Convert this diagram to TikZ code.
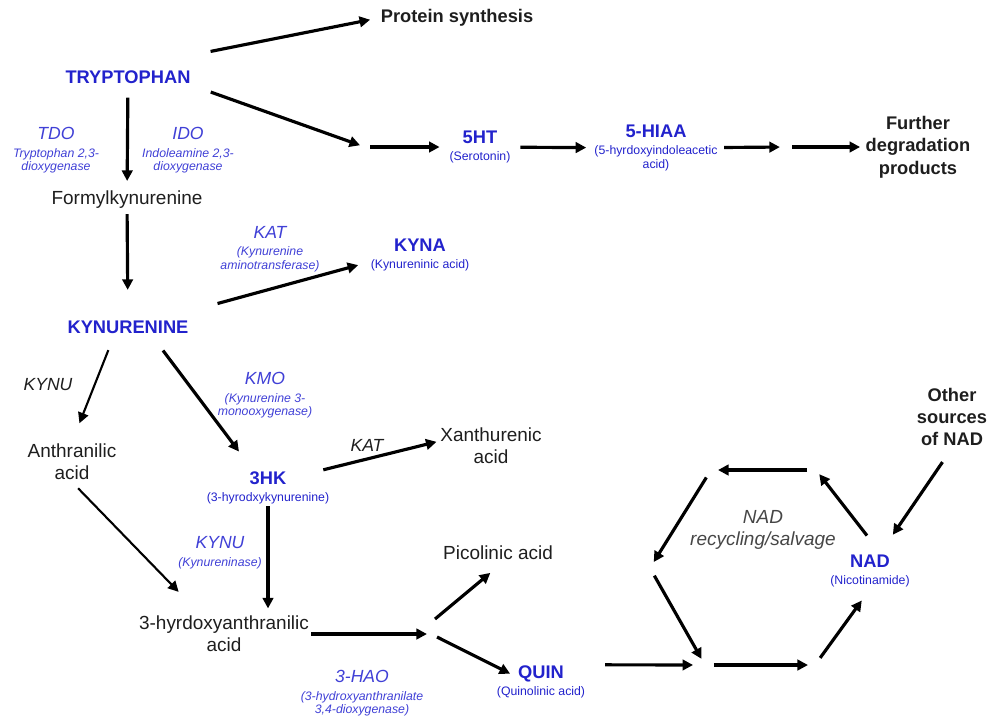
\documentclass[tikz,border=0pt]{standalone}
\usepackage{fontspec}
\setmainfont{Liberation Sans}
\usetikzlibrary{arrows.meta}

\definecolor{titleblue}{RGB}{34,34,204}
\definecolor{enzblue}{RGB}{64,64,214}
\definecolor{inkgrey}{RGB}{30,30,30}
\definecolor{salvgrey}{RGB}{70,70,70}

\newcommand\notefont{\fontsize{7}{7.6}\selectfont}
\newcommand\ttl[1]{{\fontsize{10.4}{12}\selectfont\bfseries #1}}
\newcommand\enz[1]{{\fontsize{10}{12}\selectfont #1}}

\tikzset{
  metab/.style={text=titleblue, font=\notefont, align=center, inner sep=1pt},
  enzyme/.style={text=enzblue, font=\itshape\notefont, align=center, inner sep=1pt},
  compound/.style={text=inkgrey, font=\fontsize{10.8}{12.4}\selectfont, align=center, inner sep=1pt},
  endpoint/.style={text=inkgrey, font=\bfseries\fontsize{10.4}{12.7}\selectfont, align=center, inner sep=1pt},
  helper/.style={text=inkgrey, font=\itshape\fontsize{10}{12}\selectfont, inner sep=1pt},
  salvage/.style={text=salvgrey, font=\itshape\fontsize{10.8}{13}\selectfont, align=center, inner sep=1pt},
  flow/.style={-{Triangle[length=6pt,width=6pt]}, line width=1.8pt, draw=black},
  thinflow/.style={flow, line width=1.2pt},
  hexflow/.style={flow, shorten <=5pt, shorten >=4pt}
}

\begin{document}
\begin{tikzpicture}[x=0.2mm, y=-0.2mm]
        \useasboundingbox (0,0) rectangle (990,719);

        % Nodes
        \node (protein) [endpoint] at (457,18) {Protein synthesis};
        \node (trp) [metab] at (128,77) {\ttl{TRYPTOPHAN}};
        \node (sht) [metab] at (480,147) {\ttl{5HT}\\[2pt](Serotonin)};
        \node (hiaa) [metab] at (656,148) {\ttl{5-HIAA}\\[2pt](5-hyrdoxyindoleacetic\\acid)};
        \node (further) [endpoint] at (918,147) {Further\\degradation\\products};
        \node (tdo) [enzyme] at (56,150) {\enz{TDO}\\[2.5pt]Tryptophan 2,3-\\dioxygenase};
        \node (ido) [enzyme] at (188,150) {\enz{IDO}\\[2.5pt]Indoleamine 2,3-\\dioxygenase};
        \node (formyl) [compound] at (127,200) {Formylkynurenine};
        \node (katone) [enzyme] at (270,249) {\enz{KAT}\\[2.5pt](Kynurenine\\aminotransferase)};
        \node (kyna) [metab] at (420,255) {\ttl{KYNA}\\[2pt](Kynureninic acid)};
        \node (kyn) [metab] at (128,327) {\ttl{KYNURENINE}};
        \node (kynuone) [helper] at (48,385) {KYNU};
        \node (anth) [compound] at (72,462) {Anthranilic\\acid};
        \node (kmo) [enzyme] at (265,395) {\enz{KMO}\\[2.5pt](Kynurenine 3-\\monooxygenase)};
        \node (hk) [metab] at (268,488) {\ttl{3HK}\\[2pt](3-hyrodxykynurenine)};
        \node (kattwo) [helper] at (367,445) {KAT};
        \node (xanth) [compound] at (491,446) {Xanthurenic\\acid};
        \node (kynutwo) [enzyme] at (220,553) {\enz{KYNU}\\[2.5pt](Kynureninase)};
        \node (haa) [compound] at (224,634) {3-hyrdoxyanthranilic\\acid};
        \node (pic) [compound] at (498,553) {Picolinic acid};
        \node (hao) [enzyme] at (362,693) {\enz{3-HAO}\\[2.5pt](3-hydroxyanthranilate\\3,4-dioxygenase)};
        \node (quin) [metab] at (541,682) {\ttl{QUIN}\\[2pt](Quinolinic acid)};
        \node (nad) [metab] at (870,571) {\ttl{NAD}\\[2pt](Nicotinamide)};
        \node (other) [endpoint] at (952,417) {Other\\sources\\of NAD};
        \node (salv) [salvage] at (763,530) {NAD\\recycling/salvage};

        % Free ends of the arrows
        \coordinate (serjoin) at (365,147);
        \coordinate (degjoin) at (786,147);
        \coordinate (picjoin) at (431,634);
        \coordinate (hextl) at (711,470);
        \coordinate (hextr) at (816,470);
        \coordinate (hexl) at (650,568);
        \coordinate (hexbl) at (705,665);
        \coordinate (hexbr) at (815,665);

        % Edges
        \draw[flow, shorten >=5pt] (trp.north east) ++(18,-17) -- (protein.west);
        \draw[flow, shorten <=11pt, shorten >=3pt] (trp.south east) -- (serjoin);
        \draw[flow, shorten <=3pt, shorten >=4.5pt] (serjoin) -- (sht);
        \draw[flow, shorten <=4.5pt, shorten >=3.5pt] (sht) -- (hiaa);
        \draw[flow, shorten <=2.5pt, shorten >=3.5pt] (hiaa) -- (degjoin);
        \draw[flow, shorten <=3.5pt, shorten >=2pt] (degjoin) -- (further);
        \draw[flow, shorten <=6.8pt, shorten >=4.6pt] (trp) -- (formyl);
        \draw[flow, shorten <=1.8pt, shorten >=16.3pt] (formyl) -- (kyn);
        \draw[flow, shorten >=6.2pt] (kyn.north east) ++(27,-15) -- (kyna.188);
        \draw[thinflow, shorten <=1pt, shorten >=11.5pt] (kyn.south) ++(-19,13) -- (anth.north);
        \draw[flow, shorten >=13pt] (kyn.south) ++(35,15) -- (hk.130);
        \draw[flow, shorten >=1pt] (hk.north east) ++(-8,0) -- (xanth.175);
        \draw[flow, shorten >=3.2pt] (hk) -- (hk |- haa.north);
        \draw[thinflow, shorten <=5pt, shorten >=17.6pt] (anth.south) -- (haa.140);
        \draw[flow, shorten >=2.3pt] (haa) -- (haa -| picjoin);
        \draw[flow, shorten >=9.6pt] (picjoin) ++(4,-15) -- (pic.-60);
        \draw[flow, shorten >=3pt] (picjoin) ++(6,3) -- ([shift={(20,-6)}]quin.west);
        \draw[flow, shorten >=6.8pt] (quin.north east) ++(18,1) -- (hexbl);

        % NAD cycle
        \draw[hexflow] (hextr) -- (hextl);
        \draw[hexflow] (hextl) -- (hexl);
        \draw[hexflow] (hexl) -- (hexbl);
        \draw[hexflow] (hexbl) -- (hexbr);
        \draw[flow, shorten <=5pt, shorten >=8pt] (hexbr) -- (nad.south);
        \draw[flow, shorten <=12.5pt, shorten >=3pt] (nad.60) -- (hextr);
        \draw[flow, shorten <=9.6pt, shorten >=12.5pt] (other.south) -- (nad.60);
\end{tikzpicture}
\end{document}
